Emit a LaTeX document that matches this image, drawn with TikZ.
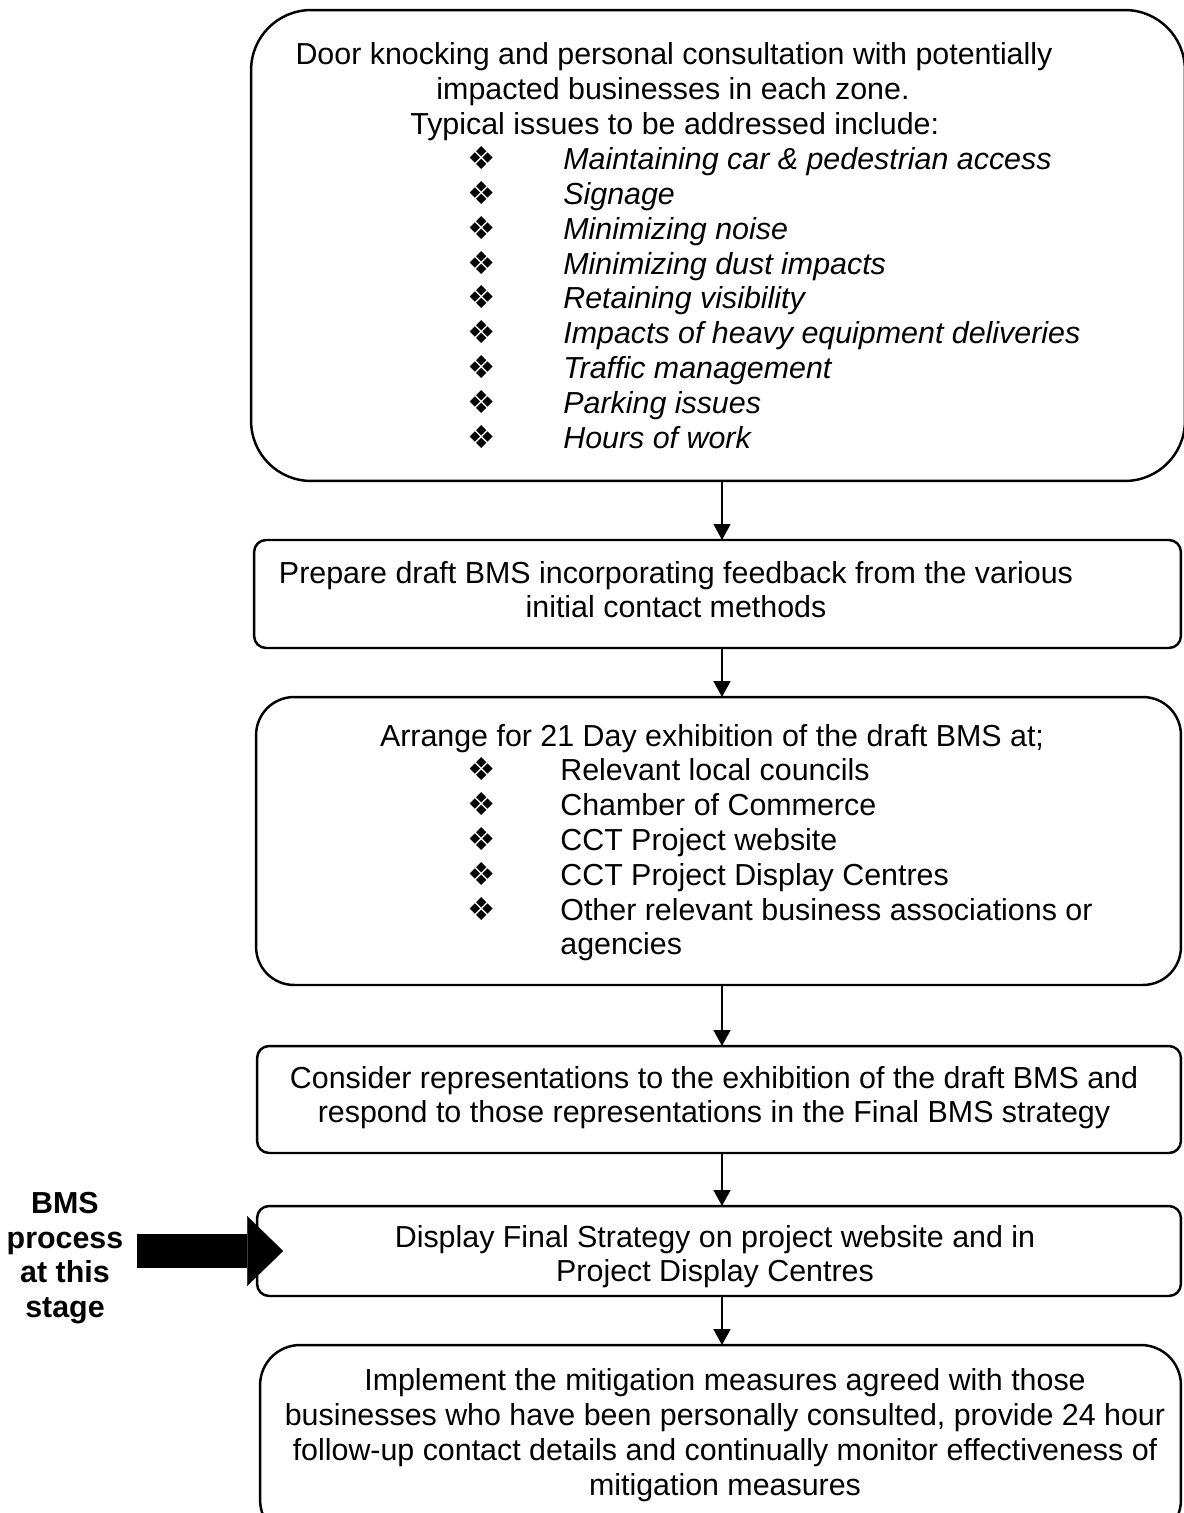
\documentclass[tikz,border=0pt]{standalone}
\usepackage{fontspec}
\setmainfont{Liberation Sans}
\newfontfamily\symfont{DejaVu Sans}
\usetikzlibrary{arrows.meta}

\tikzset{
  stepbox/.style={draw, line width=1.4pt, inner sep=0pt, outer sep=0pt},
  txtline/.style={font=\fontsize{17.3}{20}\selectfont, inner sep=0pt, anchor=base},
  itm/.style={txtline, anchor=base west},
  itmit/.style={itm, font=\fontsize{17.3}{20}\selectfont\itshape},
  bul/.style={font=\symfont\fontsize{18}{20}\selectfont, inner sep=0pt, anchor=base},
  flow/.style={-{Triangle[length=9pt,width=9.5pt]}, line width=1pt},
  bigarrow/.style={line width=19.8pt, -{Triangle[length=20.4pt,width=39.7pt,line width=0.1pt]}}
}

\begin{document}
\begin{tikzpicture}[x=0.02cm, y=-0.02cm]
    \useasboundingbox (0,0) rectangle (1183,1513);

    % Boxes
    \node[stepbox, rounded corners=1.2cm, minimum width=18.68cm, minimum height=9.42cm] (b1) at (718,245.5) {};
    \node[stepbox, rounded corners=0.24cm, minimum width=18.54cm, minimum height=2.16cm] (b2) at (717.5,594) {};
    \node[stepbox, rounded corners=0.76cm, minimum width=18.5cm, minimum height=5.76cm] (b3) at (718.5,841) {};
    \node[stepbox, rounded corners=0.24cm, minimum width=18.48cm, minimum height=2.14cm] (b4) at (719,1099.5) {};
    \node[stepbox, rounded corners=0.24cm, minimum width=18.48cm, minimum height=1.8cm] (b5) at (719,1251) {};
    \node[stepbox, rounded corners=0.8cm, minimum width=18.42cm, minimum height=3.9cm] (b6) at (720.5,1442.5) {};

    % Box 1: consultation
    \node[txtline] (t1-1) at (674,65) {Door knocking and personal consultation with potentially};
    \node[txtline] (t1-2) at (673,100) {impacted businesses in each zone.};
    \node[itm] (t1-3) at (410,135) {Typical issues to be addressed include:};
    \foreach \txt [count=\i] in {Maintaining car \& pedestrian access, Signage, Minimizing noise,
        Minimizing dust impacts, Retaining visibility, Impacts of heavy equipment deliveries,
        Traffic management, Parking issues, Hours of work} {
        \node[bul] (d1-\i) at (482,{135+34.8*\i}) {❖};
        \node[itmit] (i1-\i) at (563,{135+34.8*\i}) {\txt};
    }

    % Box 2: draft
    \foreach \txt [count=\i from 0] in {Prepare draft BMS incorporating feedback from the various,
        initial contact methods}
        \node[txtline] (t2-\i) at (676,{583+34.5*\i}) {\txt};

    % Box 3: exhibition
    \node[txtline] (t3-0) at (712,746) {Arrange for 21 Day exhibition of the draft BMS at;};
    \foreach \txt [count=\i] in {Relevant local councils, Chamber of Commerce, CCT Project website,
        CCT Project Display Centres, Other relevant business associations or} {
        \node[bul] (d3-\i) at (482,{746+34.8*\i}) {❖};
        \node[itm] (i3-\i) at (560,{746+34.8*\i}) {\txt};
    }
    \node[itm] (i3-6) at (560,{746+34.8*6}) {agencies};

    % Box 4: representations
    \foreach \txt [count=\i from 0] in {Consider representations to the exhibition of the draft BMS and,
        respond to those representations in the Final BMS strategy}
        \node[txtline] (t4-\i) at (714,{1088+34.5*\i}) {\txt};

    % Box 5: final strategy
    \foreach \txt [count=\i from 0] in {Display Final Strategy on project website and in,
        Project Display Centres}
        \node[txtline] (t5-\i) at (715,{1247+34.5*\i}) {\txt};

    % Box 6: implementation
    \foreach \txt [count=\i from 0] in {Implement the mitigation measures agreed with those,
        {businesses who have been personally consulted, provide 24 hour},
        follow-up contact details and continually monitor effectiveness of,
        mitigation measures}
        \node[txtline] (t6-\i) at (725,{1390+35*\i}) {\txt};

    % Flow arrows
    \coordinate (ax) at (722,0);
    \foreach \a/\b in {b1/b2,b2/b3,b3/b4,b4/b5,b5/b6}
        \draw[flow] (\a.south -| ax) -- (\b.north -| ax);

    % Stage marker
    \node[font=\bfseries\fontsize{17.3}{19.8}\selectfont, align=center, inner sep=0pt] (lbl) at (65,1258) {BMS\\process\\at this\\stage};
    \coordinate (ptr) at (137,1251);
    \draw[bigarrow] (ptr) -- ([xshift=0.52cm]b5.west);
\end{tikzpicture}
\end{document}
